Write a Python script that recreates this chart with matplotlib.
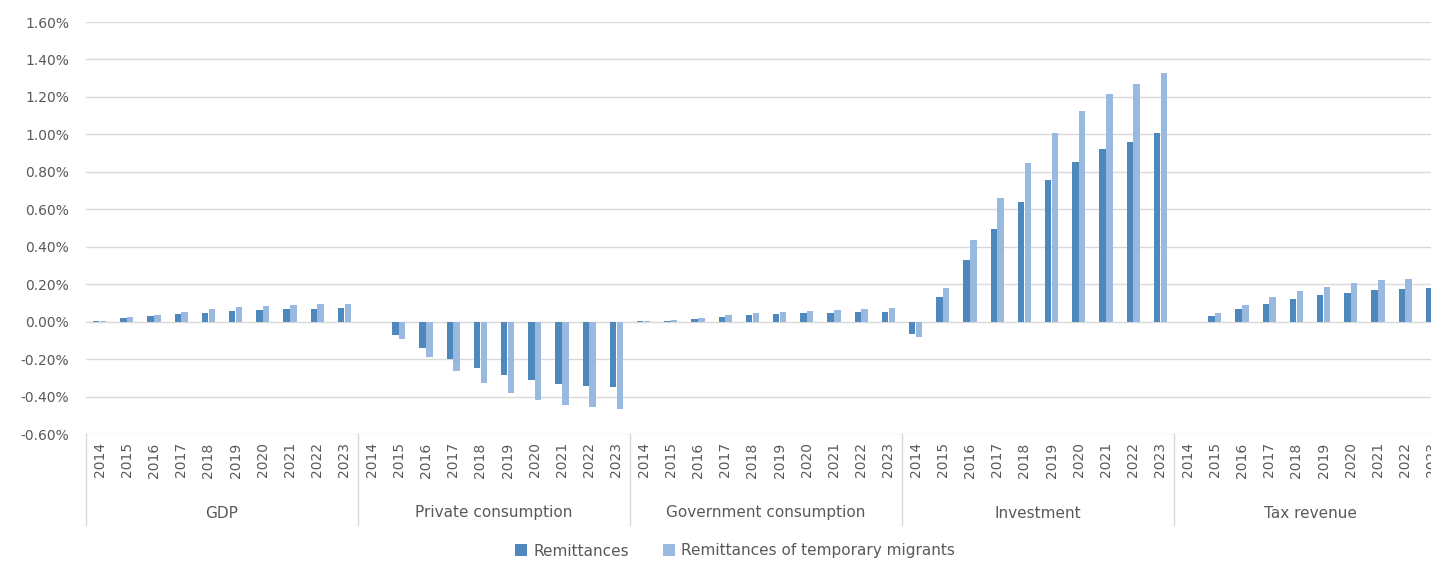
import numpy as np
import matplotlib.pyplot as plt
from matplotlib.transforms import blended_transform_factory

years = ["2014", "2015", "2016", "2017", "2018", "2019", "2020", "2021", "2022", "2023"]
groups = ["GDP", "Private consumption", "Government consumption", "Investment", "Tax revenue"]

# values in percent
gdp_remit = [0.005, 0.017, 0.029, 0.040, 0.048, 0.058, 0.063, 0.067, 0.069, 0.071]
gdp_temp = [0.005, 0.023, 0.038, 0.054, 0.067, 0.077, 0.085, 0.088, 0.094, 0.096]
priv_remit = [0.0, -0.072, -0.140, -0.199, -0.247, -0.287, -0.314, -0.335, -0.342, -0.351]
priv_temp = [0.0, -0.093, -0.187, -0.265, -0.330, -0.380, -0.420, -0.445, -0.457, -0.468]
gov_remit = [0.001, 0.005, 0.016, 0.025, 0.034, 0.041, 0.045, 0.048, 0.052, 0.054]
gov_temp = [0.001, 0.009, 0.021, 0.036, 0.045, 0.054, 0.059, 0.064, 0.070, 0.071]
inv_remit = [-0.064, 0.134, 0.330, 0.496, 0.641, 0.757, 0.852, 0.920, 0.961, 1.005]
inv_temp = [-0.082, 0.179, 0.438, 0.659, 0.848, 1.005, 1.127, 1.216, 1.270, 1.329]
tax_remit = [0.0, 0.032, 0.066, 0.096, 0.121, 0.141, 0.155, 0.168, 0.173, 0.180]
tax_temp = [0.0, 0.046, 0.089, 0.129, 0.161, 0.186, 0.207, 0.221, 0.229, 0.235]

remit = gdp_remit + priv_remit + gov_remit + inv_remit + tax_remit
temp = gdp_temp + priv_temp + gov_temp + inv_temp + tax_temp

dark = "#4F88BC"
light = "#99B9E0"
txt = "#595959"
grid = "#D9D9D9"

plt.rcParams['font.family'] = ['DejaVu Sans']

fig = plt.figure(figsize=(14.31, 5.63), dpi=100)
W, H = 1431, 563
# axes runs past the right edge of the picture (cropped like the reference)
ax = fig.add_axes([86 / W, 1 - 434 / H, 1360 / W, 412 / H])

n = len(remit)
x = np.arange(n)
bw = 0.23
ax.bar(x - 0.125, remit, bw, color=dark, linewidth=0,
       label="Remittances", zorder=3)
ax.bar(x + 0.125, temp, bw, color=light, linewidth=0,
       label="Remittances of temporary migrants", zorder=3)

ax.set_xlim(-0.5, n - 0.5)
ax.set_ylim(-0.6, 1.6)
yt = np.arange(-0.6, 1.61, 0.2)
ax.set_yticks(yt)
ax.set_yticklabels(["%.2f%%" % v for v in yt], color=txt, fontsize=10)
ax.yaxis.grid(True, color=grid, linewidth=1.0, zorder=0)
ax.set_axisbelow(True)
for s in ax.spines.values():
    s.set_visible(False)
ax.tick_params(axis="y", length=0, pad=12)

ax.set_xticks(x)
ax.set_xticklabels(years * len(groups), rotation=90, color=txt, fontsize=10)
ax.tick_params(axis="x", length=0, pad=6)

trans = blended_transform_factory(ax.transData, ax.transAxes)
drop = 91 / 412
for g in range(len(groups) + 1):
    xb = g * 10 - 0.5
    ax.plot([xb, xb], [0, -drop], transform=trans, color=grid, linewidth=1.0,
            clip_on=False)
for g, name in enumerate(groups):
    ax.text(g * 10 + 4.5, -79 / 412, name, transform=trans, ha="center",
            va="center", color=txt, fontsize=11)

fig.legend(loc="center", bbox_to_anchor=(735 / W, 1 - 551 / H), ncol=2,
           frameon=False, fontsize=11, handlelength=0.8, handleheight=0.8,
           handletextpad=0.4, columnspacing=2.2, labelcolor=txt)

fig.savefig("out.png", dpi=100)
